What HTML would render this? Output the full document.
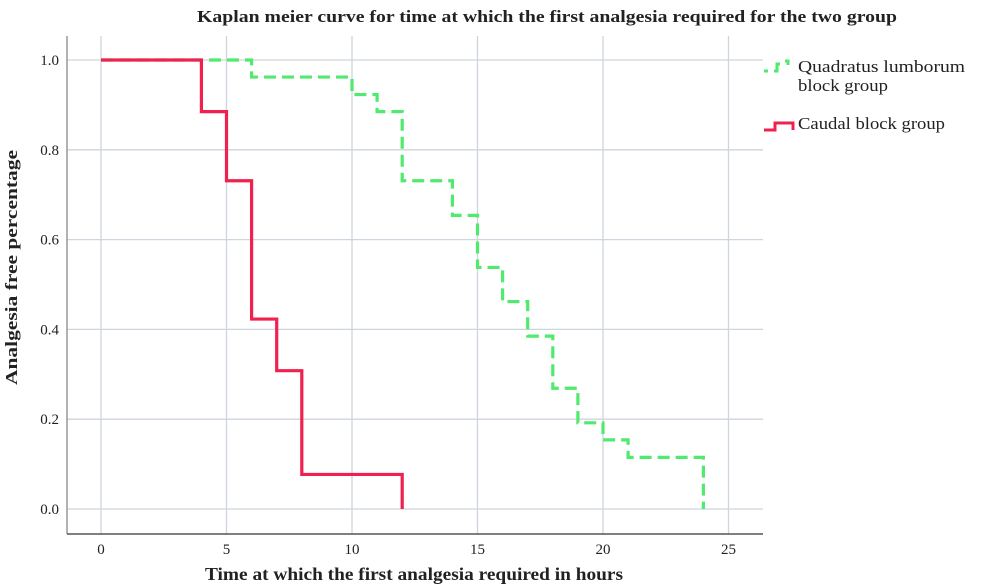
<!DOCTYPE html>
<html><head><meta charset="utf-8"><style>
body{margin:0;background:#fff;}
svg{display:block;font-family:"Liberation Serif",serif;}
</style></head><body>
<svg id="chart" width="1000" height="588" viewBox="0 0 1000 588">
<text x="197" y="22" font-size="17" font-weight="bold" fill="#222" textLength="700" lengthAdjust="spacingAndGlyphs">Kaplan meier curve for time at which the first analgesia required for the two group</text>
<g id="grid"></g>
<g id="axes"></g>
<g id="series"></g>
<text x="205" y="580" font-size="18" font-weight="bold" fill="#222" textLength="418" lengthAdjust="spacingAndGlyphs">Time at which the first analgesia required in hours</text>
<text transform="translate(17,385) rotate(-90)" font-size="17" font-weight="bold" fill="#222" textLength="235" lengthAdjust="spacingAndGlyphs">Analgesia free percentage</text>
<g>
<g>
<path d="M764,71 H768 M774,71 H777 V64 H780 M785,61 H788 V65" stroke="#4fea6e" stroke-width="3" fill="none"/>
<text x="798" y="72" font-size="17" fill="#222" textLength="167" lengthAdjust="spacingAndGlyphs">Quadratus lumborum</text>
<text x="798" y="91" font-size="17" fill="#222" textLength="90" lengthAdjust="spacingAndGlyphs">block group</text>
</g>
<g>
<path d="M764,130 H775 V123 H793 V130" stroke="#f0204f" stroke-width="3" fill="none"/>
<text x="798" y="129" font-size="17" fill="#222" textLength="147" lengthAdjust="spacingAndGlyphs">Caudal block group</text>
</g>
</g>
</svg>
<script>
const xTicks=[0,5,10,15,20,25];
const yTicks=[0,0.2,0.4,0.6,0.8,1.0];
const yTickLabels=["0.0","0.2","0.4","0.6","0.8","1.0"];
const caudalTimes=[0,4,5,6,7,8,12];
const caudalSurv=[1,0.885,0.731,0.423,0.308,0.077,0];
const qlTimes=[0,6,10,11,12,14,15,16,17,18,19,20,21,24];
const qlSurv=[1,0.962,0.923,0.885,0.731,0.654,0.538,0.462,0.385,0.269,0.192,0.154,0.115,0];
const X0=101,XS=25.1,Y0=509,YS=449;
function sx(v){return X0+v*XS;}
function sy(v){return Y0-v*YS;}
const NS="http://www.w3.org/2000/svg";
function mk(t,a,p){const e=document.createElementNS(NS,t);for(const k in a)e.setAttribute(k,a[k]);p.appendChild(e);return e;}
const grid=document.getElementById('grid'),axes=document.getElementById('axes'),ser=document.getElementById('series');
xTicks.forEach(t=>{
 const l=mk('line',{x1:sx(t),x2:sx(t),y1:36,y2:534,stroke:'#cdd5de','stroke-width':1.3},grid);
 
 
 const tx=mk('text',{x:sx(t),y:554,'text-anchor':'middle','font-size':15,fill:'#222'},axes);
 tx.textContent=t;
 
 
});
yTicks.forEach((t,i)=>{
 const l=mk('line',{x1:67,x2:763,y1:sy(t),y2:sy(t),stroke:'#cdd5de','stroke-width':1.3},grid);
 
 
 const tx=mk('text',{x:59,y:sy(t)+5,'text-anchor':'end','font-size':15,fill:'#222'},axes);
 tx.textContent=yTickLabels[i];
 
 
});
const ya=mk('line',{x1:67,x2:67,y1:36,y2:534,stroke:'#888','stroke-width':1.3},axes);


const xa=mk('line',{x1:67,x2:763,y1:534,y2:534,stroke:'#555','stroke-width':1.5},axes);


function stepPath(ts,ss){let d='M'+sx(ts[0])+','+sy(ss[0]);for(let i=1;i<ts.length;i++){d+=' H'+sx(ts[i])+' V'+sy(ss[i]);}return d;}
const g=mk('path',{d:stepPath(qlTimes,qlSurv),stroke:'#4fea6e','stroke-width':3.2,fill:'none','stroke-dasharray':'12,6'},ser);


const r=mk('path',{d:stepPath(caudalTimes,caudalSurv),stroke:'#f0204f','stroke-width':3.2,fill:'none'},ser);


</script>
</body></html>
